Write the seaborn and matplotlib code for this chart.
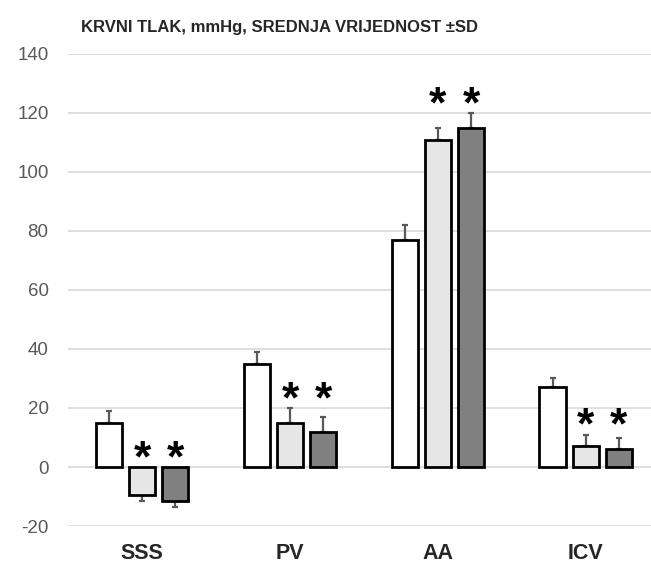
import pandas as pd
import matplotlib.pyplot as plt
import seaborn as sns

# data
categories = ["SSS", "PV", "AA", "ICV"]
groups = ["A", "B", "C"]
means_a = [15, 35, 77, 27]
means_b = [-9.5, 15, 111, 7]
means_c = [-11.5, 12, 115, 6]
sd_a = [4, 4, 5, 3]
sd_b = [2, 5, 4, 4]
sd_c = [2, 5, 5, 4]
significant = [False, True, True]
yticks = [-20, 0, 20, 40, 60, 80, 100, 120, 140]

means = [means_a, means_b, means_c]
sds = [sd_a, sd_b, sd_c]

rows = []
for g, vals in zip(groups, means):
    for c, v in zip(categories, vals):
        rows.append({"region": c, "group": g, "value": v})
df = pd.DataFrame(rows)

sns.set_style("white")
plt.rcParams['font.family'] = ['Liberation Sans', 'DejaVu Sans']
plt.rcParams['axes.unicode_minus'] = False

fig = plt.figure(figsize=(6.51, 5.67), dpi=100)
ax = fig.add_axes([0.1045, 0.0723, 0.8955, 0.8325])

sns.barplot(data=df, x="region", y="value", hue="group", order=categories,
            palette=["white", "#e6e6e6", "#808080"], edgecolor="black",
            linewidth=2, width=0.67, gap=0.19, legend=False, ax=ax, zorder=3)
bar_conts = list(ax.containers)

# one-sided SD whiskers, pointing away from zero
tops = [[0.0] * len(categories) for _ in groups]
for gi, (cont, sd) in enumerate(zip(bar_conts, sds)):
    for ci, (bar, s) in enumerate(zip(cont, sd)):
        x = bar.get_x() + bar.get_width() / 2
        v = means[gi][ci]
        if v >= 0:
            err = [[0], [s]]
            tops[gi][ci] = v + s
        else:
            err = [[s], [0]]
            tops[gi][ci] = 0
        ax.errorbar(x, v, yerr=err, fmt="none", ecolor="#595959",
                    elinewidth=1.6, capsize=2.5, capthick=1.6, zorder=2)

# asterisks over significant bars
for ci in range(len(categories)):
    h = max(tops[gi][ci] for gi in range(len(groups)) if significant[gi])
    for gi, cont in enumerate(bar_conts):
        if significant[gi]:
            bar = cont[ci]
            x = bar.get_x() + bar.get_width() / 2
            ax.text(x, h + 2.5, "*", ha="center", va="center",
                    fontsize=32, fontweight="bold", color="black")

ax.set_ylim(-20, 140)
ax.set_xlim(-0.5, 3.44)
ax.set_yticks(yticks)
ax.yaxis.grid(True, color="#d9d9d9", linewidth=1.2)
ax.set_axisbelow(True)
for sp in ax.spines.values():
    sp.set_visible(False)
ax.set_xlabel("")
ax.set_ylabel("")
ax.tick_params(axis="y", labelsize=13.5, labelcolor="#595959", length=0, pad=14)
ax.tick_params(axis="x", labelsize=15.5, length=0, pad=12)
for lab in ax.get_xticklabels():
    lab.set_fontweight("bold")

fig.text(0.43, 0.952, "KRVNI TLAK, mmHg, SREDNJA VRIJEDNOST ±SD",
         ha="center", va="center", fontsize=12, fontweight="bold")

fig.savefig("out.png", dpi=100)
